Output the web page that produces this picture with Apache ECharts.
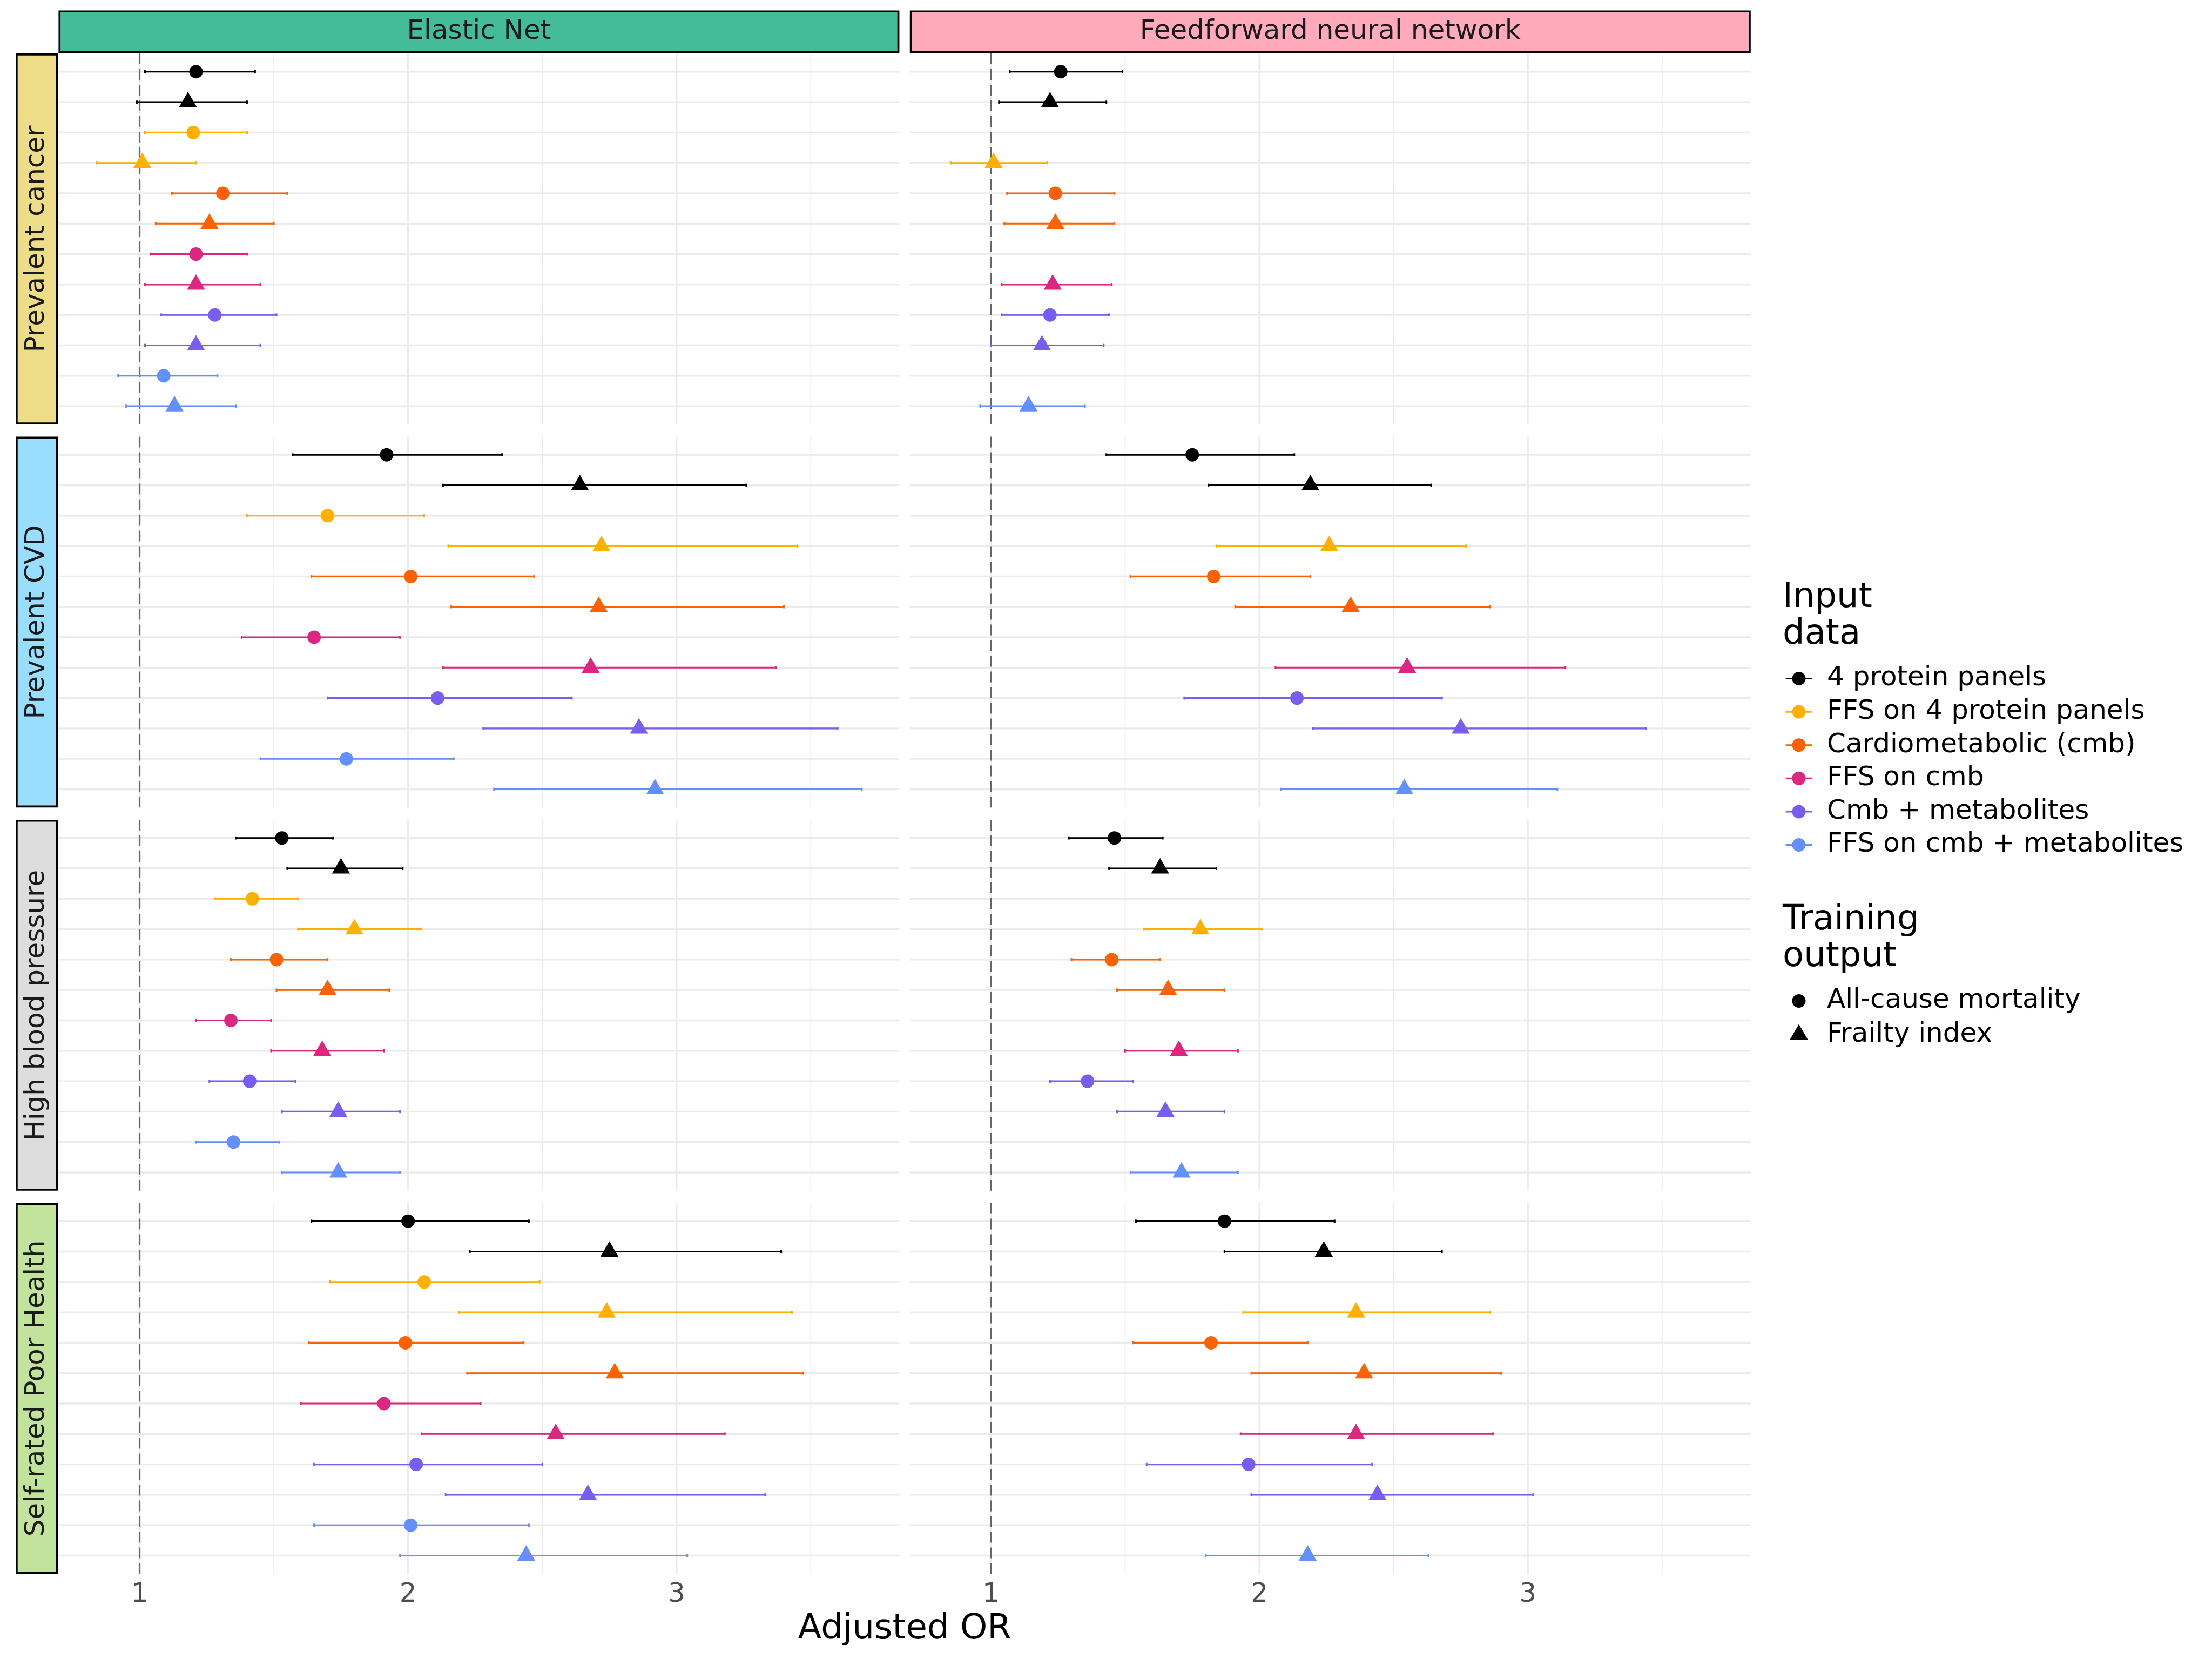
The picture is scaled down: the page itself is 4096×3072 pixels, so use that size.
<!DOCTYPE html>
<html>
<head>
<meta charset="utf-8">
<script src="https://cdn.jsdelivr.net/npm/echarts@6/dist/echarts.min.js"></script>
<style>html,body{margin:0;padding:0;background:#ffffff}#c{width:4096px;height:3072px}</style>
</head>
<body>
<div id="c"></div>
<script>
// ---------------- data ----------------
const models = ['Elastic Net', 'Feedforward neural network'];
const outcomes = ['Prevalent cancer', 'Prevalent CVD', 'High blood pressure', 'Self-rated Poor Health'];
const inputData = ['4 protein panels', 'FFS on 4 protein panels', 'Cardiometabolic (cmb)', 'FFS on cmb', 'Cmb + metabolites', 'FFS on cmb + metabolites'];
const trainingOutput = ['All-cause mortality', 'Frailty index'];
const xTicks = [1, 2, 3];
const xMinorTicks = [1.5, 2.5, 3.5];
const refLine = 1;
const axisTitle = 'Adjusted OR';

// rows: each input data x (All-cause mortality, Frailty index); [OR, lower, upper]
const enCancer = [
  [1.21, 1.02, 1.43], [1.18, 0.99, 1.40],
  [1.20, 1.02, 1.40], [1.01, 0.84, 1.21],
  [1.31, 1.12, 1.55], [1.26, 1.06, 1.50],
  [1.21, 1.04, 1.40], [1.21, 1.02, 1.45],
  [1.28, 1.08, 1.51], [1.21, 1.02, 1.45],
  [1.09, 0.92, 1.29], [1.13, 0.95, 1.36]
];
const ffnnCancer = [
  [1.26, 1.07, 1.49], [1.22, 1.03, 1.43],
  null,               [1.01, 0.85, 1.21],
  [1.24, 1.06, 1.46], [1.24, 1.05, 1.46],
  null,               [1.23, 1.04, 1.45],
  [1.22, 1.04, 1.44], [1.19, 1.00, 1.42],
  null,               [1.14, 0.96, 1.35]
];
const enCvd = [
  [1.92, 1.57, 2.35], [2.64, 2.13, 3.26],
  [1.70, 1.40, 2.06], [2.72, 2.15, 3.45],
  [2.01, 1.64, 2.47], [2.71, 2.16, 3.40],
  [1.65, 1.38, 1.97], [2.68, 2.13, 3.37],
  [2.11, 1.70, 2.61], [2.86, 2.28, 3.60],
  [1.77, 1.45, 2.17], [2.92, 2.32, 3.69]
];
const ffnnCvd = [
  [1.75, 1.43, 2.13], [2.19, 1.81, 2.64],
  null,               [2.26, 1.84, 2.77],
  [1.83, 1.52, 2.19], [2.34, 1.91, 2.86],
  null,               [2.55, 2.06, 3.14],
  [2.14, 1.72, 2.68], [2.75, 2.20, 3.44],
  null,               [2.54, 2.08, 3.11]
];
const enHbp = [
  [1.53, 1.36, 1.72], [1.75, 1.55, 1.98],
  [1.42, 1.28, 1.59], [1.80, 1.59, 2.05],
  [1.51, 1.34, 1.70], [1.70, 1.51, 1.93],
  [1.34, 1.21, 1.49], [1.68, 1.49, 1.91],
  [1.41, 1.26, 1.58], [1.74, 1.53, 1.97],
  [1.35, 1.21, 1.52], [1.74, 1.53, 1.97]
];
const ffnnHbp = [
  [1.46, 1.29, 1.64], [1.63, 1.44, 1.84],
  null,               [1.78, 1.57, 2.01],
  [1.45, 1.30, 1.63], [1.66, 1.47, 1.87],
  null,               [1.70, 1.50, 1.92],
  [1.36, 1.22, 1.53], [1.65, 1.47, 1.87],
  null,               [1.71, 1.52, 1.92]
];
const enSrph = [
  [2.00, 1.64, 2.45], [2.75, 2.23, 3.39],
  [2.06, 1.71, 2.49], [2.74, 2.19, 3.43],
  [1.99, 1.63, 2.43], [2.77, 2.22, 3.47],
  [1.91, 1.60, 2.27], [2.55, 2.05, 3.18],
  [2.03, 1.65, 2.50], [2.67, 2.14, 3.33],
  [2.01, 1.65, 2.45], [2.44, 1.97, 3.04]
];
const ffnnSrph = [
  [1.87, 1.54, 2.28], [2.24, 1.87, 2.68],
  null,               [2.36, 1.94, 2.86],
  [1.82, 1.53, 2.18], [2.39, 1.97, 2.90],
  null,               [2.36, 1.93, 2.87],
  [1.96, 1.58, 2.42], [2.44, 1.97, 3.02],
  null,               [2.18, 1.80, 2.63]
];
const panelData = [[enCancer, ffnnCancer], [enCvd, ffnnCvd], [enHbp, ffnnHbp], [enSrph, ffnnSrph]];

// ---------------- styles / layout ----------------
const FONT = '"DejaVu Sans", "Liberation Sans", sans-serif';
const inputColors = ['#000000', '#FFB000', '#FE6100', '#DC267F', '#785EF0', '#648FFF'];
const modelStripColors = ['#44BB99', '#FFAABB'];
const outcomeStripColors = ['#EEDD88', '#99DDFF', '#DDDDDD', '#C2E39C'];
const colLeft = [108.4, 1684.8];
const panelW = 1557.0;
const rowTop = [99.0, 808.4, 1517.9, 2227.4];
const panelH = 686.9;
const xMin = 0.698, xMax = 3.83;
const nRows = inputData.length * trainingOutput.length;
const yMin = -0.6, yMax = nRows - 1 + 0.6;
const circleSize = 25;
const triW = 33.4, triH = 28.8;
const GRID = '#EBEBEB';
const BORDER = 3.7;

const grids = [], xAxes = [], yAxes = [], series = [];

panelData.forEach((rowPanels, r) => {
  rowPanels.forEach((rows, c) => {
    const g = grids.length;
    grids.push({ left: colLeft[c], top: rowTop[r], width: panelW, height: panelH, containLabel: false });
    xAxes.push({
      type: 'value', gridIndex: g, min: xMin, max: xMax,
      axisLine: { show: false }, axisTick: { show: false }, splitLine: { show: false },
      axisLabel: {
        show: r === panelData.length - 1, customValues: xTicks,
        formatter: v => String(v), fontFamily: FONT, fontSize: 50, color: '#4D4D4D', margin: 14
      }
    });
    yAxes.push({ type: 'value', gridIndex: g, min: yMin, max: yMax, inverse: true, show: false });

    // background grid lines (kind 0 = major vertical, 1 = minor vertical, 2 = row line)
    const gridData = [];
    xTicks.forEach(v => gridData.push([v, 0, 0]));
    xMinorTicks.forEach(v => gridData.push([v, 0, 1]));
    for (let i = 0; i < nRows; i++) gridData.push([xMin, i, 2]);
    series.push({
      type: 'custom', xAxisIndex: g, yAxisIndex: g, silent: true, z: 1, animation: false,
      encode: { x: 0, y: 1 }, data: gridData,
      renderItem: (params, api) => {
        const kind = api.value(2);
        let p1, p2;
        if (kind === 2) {
          p1 = api.coord([xMin, api.value(1)]); p2 = api.coord([xMax, api.value(1)]);
        } else {
          p1 = api.coord([api.value(0), yMin]); p2 = api.coord([api.value(0), yMax]);
        }
        return { type: 'line', shape: { x1: p1[0], y1: p1[1], x2: p2[0], y2: p2[1] },
          style: { stroke: GRID, lineWidth: kind === 1 ? 1.7 : 3.3 } };
      }
    });

    // reference line at OR = 1
    series.push({
      type: 'custom', xAxisIndex: g, yAxisIndex: g, silent: true, z: 2, animation: false,
      encode: { x: 0 }, data: [[refLine]],
      renderItem: (params, api) => {
        const p1 = api.coord([api.value(0), yMin]), p2 = api.coord([api.value(0), yMax]);
        return { type: 'line', shape: { x1: p1[0], y1: p1[1], x2: p2[0], y2: p2[1] },
          style: { stroke: '#666666', lineWidth: 3.2, lineDash: [20, 9] } };
      }
    });

    // error bars
    const ebData = [];
    rows.forEach((d, i) => { if (d) ebData.push([d[1], d[2], i]); });
    series.push({
      type: 'custom', xAxisIndex: g, yAxisIndex: g, silent: true, z: 3, animation: false,
      encode: { x: [0, 1], y: 2 }, data: ebData,
      renderItem: (params, api) => {
        const lo = api.value(0), hi = api.value(1), y = api.value(2);
        const col = inputColors[Math.floor(y / 2)];
        const a = api.coord([lo, y]), b = api.coord([hi, y]);
        const a1 = api.coord([lo, y - 0.05]), a2 = api.coord([lo, y + 0.05]);
        const b1 = api.coord([hi, y - 0.05]), b2 = api.coord([hi, y + 0.05]);
        const st = { stroke: col, lineWidth: 3.1 };
        return { type: 'group', children: [
          { type: 'line', shape: { x1: a[0], y1: a[1], x2: b[0], y2: b[1] }, style: st },
          { type: 'line', shape: { x1: a1[0], y1: a1[1], x2: a2[0], y2: a2[1] }, style: st },
          { type: 'line', shape: { x1: b1[0], y1: b1[1], x2: b2[0], y2: b2[1] }, style: st }
        ] };
      }
    });

    // points
    const ptData = [];
    rows.forEach((d, i) => {
      if (!d) return;
      const tri = i % 2 === 1;
      ptData.push({
        value: [d[0], i],
        symbol: tri ? 'triangle' : 'circle',
        symbolSize: tri ? [triW, triH] : circleSize,
        symbolOffset: tri ? [0, -triH / 6] : [0, 0],
        itemStyle: { color: inputColors[Math.floor(i / 2)], opacity: 1 }
      });
    });
    series.push({
      type: 'scatter', xAxisIndex: g, yAxisIndex: g, silent: true, z: 4, animation: false,
      data: ptData
    });
  });
});

// ---------------- strips, legend, title (graphic) ----------------
const graphics = [];
function stripRect(x, y, w, h, fill) {
  graphics.push({ type: 'rect', shape: { x: x + BORDER / 2, y: y + BORDER / 2, width: w - BORDER, height: h - BORDER },
    style: { fill: fill, stroke: '#000000', lineWidth: BORDER }, z: 10 });
}
const stripTop = 19.4, stripH = 79.0;
models.forEach((m, c) => {
  stripRect(colLeft[c], stripTop, panelW, stripH, modelStripColors[c]);
  graphics.push({ type: 'text', x: colLeft[c] + panelW / 2, y: stripTop + stripH / 2, z: 11,
    style: { text: m, fill: '#1A1A1A', font: '50px ' + FONT, align: 'center', verticalAlign: 'middle',
      textAlign: 'center', textVerticalAlign: 'middle' } });
});
const leftStripX = 29.0, leftStripW = 78.5;
outcomes.forEach((o, r) => {
  stripRect(leftStripX, rowTop[r], leftStripW, panelH, outcomeStripColors[r]);
  graphics.push({ type: 'text', x: leftStripX + leftStripW / 2, y: rowTop[r] + panelH / 2, rotation: Math.PI / 2, z: 11,
    style: { text: o, fill: '#1A1A1A', font: '50px ' + FONT, align: 'center', verticalAlign: 'middle',
      textAlign: 'center', textVerticalAlign: 'middle' } });
});

// axis title
graphics.push({ type: 'text', x: (colLeft[0] + colLeft[1] + panelW) / 2, y: 3038 - 0.33 * 64, z: 11,
  style: { text: axisTitle, fill: '#000000', font: '64px ' + FONT, align: 'center', verticalAlign: 'middle',
    textAlign: 'center', textVerticalAlign: 'middle' } });

// legend
const legX = 3301, keyX1 = 3306.6, keyX2 = 3356, keyCx = 3331, labX = 3383;
function legendTitle(txt, baseline) {
  graphics.push({ type: 'text', x: legX, y: baseline - 0.33 * 64, z: 11,
    style: { text: txt, fill: '#000000', font: '64px ' + FONT, align: 'left', verticalAlign: 'middle',
      textAlign: 'left', textVerticalAlign: 'middle' } });
}
function legendLabel(txt, cy) {
  graphics.push({ type: 'text', x: labX, y: cy, z: 11,
    style: { text: txt, fill: '#000000', font: '50px ' + FONT, align: 'left', verticalAlign: 'middle',
      textAlign: 'left', textVerticalAlign: 'middle' } });
}
legendTitle('Input', 1128);
legendTitle('data', 1196);
const legItemY0 = 1256.5, legPitch = 61.6;
inputData.forEach((name, k) => {
  const cy = legItemY0 + k * legPitch;
  graphics.push({ type: 'line', shape: { x1: keyX1, y1: cy, x2: keyX2, y2: cy },
    style: { stroke: inputColors[k], lineWidth: 3.1 }, z: 11 });
  graphics.push({ type: 'circle', shape: { cx: keyCx, cy: cy, r: circleSize / 2 },
    style: { fill: inputColors[k] }, z: 12 });
  legendLabel(name, cy);
});
legendTitle('Training', 1725.4);
legendTitle('output', 1793.7);
const shapeY = [1853.4, 1915.7];
trainingOutput.forEach((name, k) => {
  const cy = shapeY[k];
  if (k === 0) {
    graphics.push({ type: 'circle', shape: { cx: keyCx, cy: cy, r: circleSize / 2 }, style: { fill: '#000000' }, z: 12 });
  } else {
    graphics.push({ type: 'polygon', shape: { points: [[keyCx, cy - triH * 2 / 3], [keyCx + triW / 2, cy + triH / 3], [keyCx - triW / 2, cy + triH / 3]] },
      style: { fill: '#000000' }, z: 12 });
  }
  legendLabel(name, cy);
});

const chart = echarts.init(document.getElementById('c'), null, { renderer: 'canvas', width: 4096, height: 3072 });
chart.setOption({
  backgroundColor: '#ffffff',
  animation: false,
  grid: grids,
  xAxis: xAxes,
  yAxis: yAxes,
  series: series,
  graphic: { elements: graphics }
});
</script>
</body>
</html>
